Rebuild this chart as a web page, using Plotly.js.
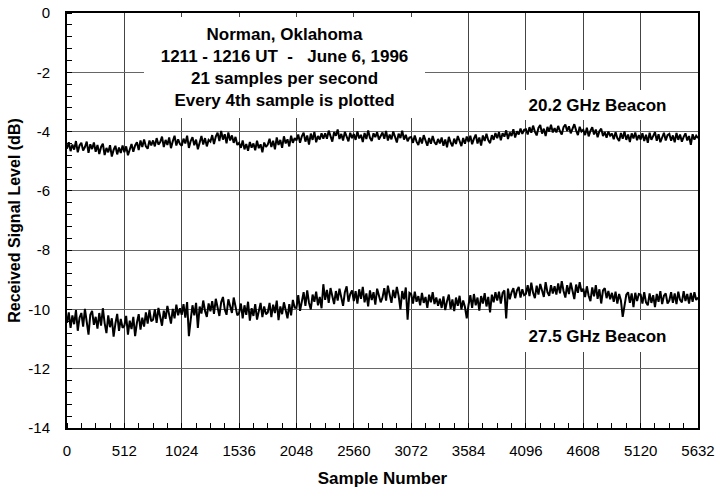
<!DOCTYPE html>
<html>
<head>
<meta charset="utf-8">
<script src="https://cdn.plot.ly/plotly-3.0.1.min.js"></script>
<style>html,body{margin:0;padding:0;background:#fff;}#chart{width:717px;height:490px;}</style>
</head>
<body>
<div id="chart"></div>
<script>
// Sample spacing between plotted points (sample number units)
const sampleStep = 16;

// 20.2 GHz beacon level (dB)
const beacon20 = [
-4.58,-4.36,-4.66,-4.44,-4.61,-4.32,-4.70,-4.47,-4.38,-4.64,-4.52,-4.34,-4.72,-4.43,-4.59,-4.37,
-4.68,-4.45,-4.76,-4.52,-4.41,-4.79,-4.55,-4.70,-4.46,-4.84,-4.62,-4.48,-4.77,-4.54,-4.72,-4.47,
-4.70,-4.50,-4.80,-4.56,-4.42,-4.68,-4.47,-4.36,-4.62,-4.30,-4.52,-4.27,-4.50,-4.58,-4.30,-4.47,
-4.30,-4.50,-4.22,-4.44,-4.35,-4.17,-4.52,-4.28,-4.45,-4.20,-4.56,-4.33,-4.14,-4.47,-4.26,-4.42,
-4.48,-4.24,-4.40,-4.14,-4.55,-4.32,-4.19,-4.46,-4.27,-4.60,-4.36,-4.15,-4.44,-4.22,-4.50,-4.28,
-4.34,-4.12,-4.42,-4.17,-4.04,-4.32,-3.98,-4.27,-4.09,-4.40,-4.03,-4.30,-4.13,-4.38,-4.18,-4.45,
-4.38,-4.55,-4.30,-4.60,-4.42,-4.65,-4.35,-4.54,-4.40,-4.63,-4.31,-4.56,-4.43,-4.70,-4.37,-4.52,
-4.44,-4.24,-4.52,-4.31,-4.60,-4.20,-4.45,-4.28,-4.55,-4.16,-4.40,-4.26,-4.50,-4.14,-4.38,-4.22,
-4.30,-4.10,-4.38,-4.16,-4.04,-4.34,-4.13,-4.44,-4.07,-4.28,-4.01,-4.36,-4.15,-4.27,-4.06,-4.24,
-4.06,-4.24,-3.97,-4.19,-4.34,-4.02,-4.14,-3.93,-4.25,-4.08,-4.30,-4.01,-4.18,-4.33,-4.04,-4.22,
-4.08,-4.28,-4.00,-4.23,-4.11,-4.35,-4.05,-4.25,-3.96,-4.21,-4.32,-4.06,-4.19,-4.02,-4.27,-4.12,
-4.03,-4.24,-3.98,-4.30,-4.10,-4.26,-4.00,-4.18,-4.37,-4.07,-4.22,-3.97,-4.27,-4.11,-4.33,-4.20,
-4.18,-4.38,-4.13,-4.34,-4.45,-4.20,-4.40,-4.12,-4.31,-4.48,-4.22,-4.41,-4.15,-4.36,-4.44,-4.25,
-4.40,-4.20,-4.48,-4.27,-4.53,-4.18,-4.37,-4.50,-4.24,-4.42,-4.15,-4.35,-4.49,-4.22,-4.41,-4.17,
-4.35,-4.14,-4.43,-4.24,-4.10,-4.40,-4.20,-4.47,-4.13,-4.32,-4.07,-4.29,-4.39,-4.12,-4.28,-4.05,
-4.22,-4.02,-4.29,-4.06,-4.17,-3.96,-4.25,-4.03,-4.15,-3.92,-4.20,-3.99,-4.10,-3.90,-4.08,-3.94,
-3.92,-4.10,-3.85,-4.04,-3.80,-4.00,-4.13,-3.88,-3.78,-4.07,-3.90,-4.15,-3.84,-4.00,-3.77,-4.03,
-3.88,-4.03,-3.81,-3.99,-4.10,-3.85,-3.76,-3.98,-3.82,-4.06,-3.90,-3.75,-3.96,-4.12,-3.84,-4.00,
-3.94,-4.12,-3.87,-4.16,-3.98,-3.85,-4.10,-3.93,-4.19,-3.99,-3.90,-4.15,-4.02,-4.21,-4.00,-4.14,
-4.07,-4.26,-4.02,-4.22,-4.32,-4.05,-4.24,-4.00,-4.28,-4.10,-4.35,-4.06,-4.23,-4.03,-4.29,-4.12,
-4.27,-4.06,-4.32,-4.11,-4.38,-4.04,-4.28,-4.14,-4.02,-4.31,-4.09,-4.36,-4.16,-4.04,-4.30,-4.12,
-4.08,-4.31,-4.13,-4.36,-4.05,-4.28,-4.10,-4.34,-4.18,-4.06,-4.30,-4.15,-4.45,-4.09,-4.27,-4.14,
-4.22
];

// 27.5 GHz beacon level (dB)
const beacon27 = [
-10.45,-10.10,-10.62,-10.20,-10.50,-10.02,-10.72,-10.28,-10.12,-10.58,-9.98,-10.44,-10.85,-10.18,-10.05,-10.52,
-10.25,-10.65,-10.12,-10.55,-9.96,-10.46,-10.80,-10.20,-10.60,-10.30,-10.92,-10.48,-10.15,-10.72,-10.32,-10.62,
-10.55,-10.22,-10.85,-10.38,-10.66,-10.25,-10.90,-10.45,-10.16,-10.68,-10.28,-10.58,-10.10,-10.48,-10.02,-10.40,
-10.35,-10.00,-10.45,-9.95,-10.26,-10.55,-10.04,-10.32,-9.88,-10.24,-10.48,-9.98,-10.30,-9.84,-10.20,-9.96,
-10.18,-9.82,-10.28,-9.75,-10.90,-10.35,-9.86,-10.20,-9.78,-10.62,-9.90,-10.14,-9.70,-10.05,-10.25,-9.80,
-10.06,-9.72,-10.15,-9.64,-9.95,-10.22,-9.76,-9.58,-10.00,-10.18,-9.66,-9.92,-10.12,-9.60,-9.86,-10.20,
-10.12,-9.80,-10.30,-9.86,-10.18,-9.74,-10.38,-9.96,-10.22,-9.82,-10.34,-10.08,-9.78,-10.26,-9.90,-10.16,
-10.10,-9.78,-10.26,-9.84,-10.12,-9.70,-10.36,-9.90,-10.16,-9.76,-10.00,-10.30,-9.82,-10.20,-9.68,-9.94,
-9.95,-9.52,-10.05,-9.66,-9.42,-9.88,-9.36,-9.78,-10.00,-9.50,-9.74,-9.40,-9.86,-9.58,-9.96,-9.15,
-9.68,-9.34,-9.78,-9.28,-9.58,-9.82,-9.38,-9.70,-9.30,-9.62,-9.88,-9.42,-9.22,-9.74,-9.48,-9.36,
-9.72,-9.38,-9.80,-9.32,-9.64,-9.24,-9.76,-9.46,-9.90,-9.36,-9.68,-9.42,-9.84,-9.30,-9.58,-9.76,
-9.60,-9.28,-9.70,-9.20,-9.50,-9.78,-9.34,-9.62,-9.24,-9.54,-10.00,-9.38,-9.66,-9.26,-10.35,-9.44,
-9.48,-9.80,-9.40,-9.74,-9.55,-9.86,-9.44,-9.78,-9.58,-9.95,-9.50,-9.76,-9.42,-9.82,-9.60,-9.88,
-9.64,-9.95,-9.56,-10.02,-9.72,-9.50,-9.98,-9.66,-10.06,-9.60,-9.88,-9.54,-10.00,-9.70,-9.92,-10.30,
-9.84,-9.52,-9.95,-9.48,-9.86,-9.60,-10.04,-9.55,-9.80,-9.45,-9.90,-9.58,-10.10,-9.50,-9.76,-9.42,
-9.70,-9.40,-9.80,-9.44,-9.36,-10.30,-9.30,-9.66,-9.42,-9.28,-9.62,-9.36,-9.24,-9.60,-9.32,-9.52,
-9.48,-9.18,-9.55,-9.10,-9.44,-9.62,-9.20,-9.50,-9.14,-9.40,-9.58,-9.08,-9.42,-9.54,-9.18,-9.46,
-9.22,-9.50,-9.12,-9.46,-9.05,-9.38,-9.60,-9.18,-9.48,-9.10,-9.42,-9.65,-9.16,-9.44,-9.08,-9.40,
-9.30,-9.58,-9.22,-9.54,-9.72,-9.26,-9.56,-9.18,-9.64,-9.32,-9.80,-9.36,-9.28,-9.62,-9.38,-9.66,
-9.44,-9.74,-9.40,-9.80,-9.48,-9.70,-10.25,-9.86,-9.50,-9.42,-9.78,-9.46,-9.92,-9.44,-9.72,-9.48,
-9.50,-9.80,-9.42,-9.76,-9.86,-9.46,-9.78,-9.52,-9.92,-9.48,-9.74,-9.38,-9.82,-9.54,-9.46,-9.80,
-9.70,-9.42,-9.78,-9.46,-9.82,-9.40,-9.68,-9.76,-9.38,-9.72,-9.48,-9.80,-9.44,-9.74,-9.42,-9.68,
-9.60
];

const xTickVals = [0,512,1024,1536,2048,2560,3072,3584,4096,4608,5120,5632];
const yTickVals = [0,-2,-4,-6,-8,-10,-12,-14];
const yTickLabels = ["0","-2","-4","-6","-8","-10","-12","-14"];
const seriesNames = ["20.2 GHz Beacon","27.5 GHz Beacon"];
const titleLines = ["Norman, Oklahoma","1211 - 1216 UT  -   June 6, 1996","21 samples per second","Every 4th sample is plotted"];

const xs20 = beacon20.map((_, i) => i * sampleStep);
const xs27 = beacon27.map((_, i) => i * sampleStep);

const FONT = "Liberation Sans, Arial, Helvetica, sans-serif";
const lineStyle = {color: "#000", width: 2};

const traces = [
  {x: xs20, y: beacon20, type: "scatter", mode: "lines", line: lineStyle, name: seriesNames[0], hoverinfo: "skip"},
  {x: xs27, y: beacon27, type: "scatter", mode: "lines", line: lineStyle, name: seriesNames[1], hoverinfo: "skip"}
];

const layout = {
  width: 717, height: 490,
  margin: {l: 67, r: 19, t: 13, b: 62},
  paper_bgcolor: "#fff", plot_bgcolor: "#fff",
  showlegend: false,
  font: {family: FONT, color: "#000", size: 15},
  xaxis: {
    range: [0, 5632], tickvals: xTickVals, ticktext: xTickVals.map(String),
    showgrid: true, gridcolor: "#444", gridwidth: 1,
    zeroline: false, showline: true, linecolor: "#000", linewidth: 2, mirror: true,
    ticks: "", ticklabelstandoff: 8,
    minor: {dtick: 128, tick0: 0, ticks: "inside", ticklen: 5, tickcolor: "#000", tickwidth: 1, showgrid: false},
    title: {text: "<b>Sample Number</b>", font: {size: 17, family: FONT}, standoff: 14}
  },
  yaxis: {
    range: [-14, 0], tickvals: yTickVals, ticktext: yTickLabels,
    showgrid: true, gridcolor: "#666", gridwidth: 1,
    zeroline: false, showline: true, linecolor: "#000", linewidth: 2, mirror: true,
    ticks: "", ticklabelstandoff: 12,
    minor: {dtick: 0.4, tick0: 0, ticks: "inside", ticklen: 5, tickcolor: "#000", tickwidth: 1, showgrid: false},
    title: {text: "<b>Received Signal Level (dB)</b>", font: {size: 16, family: FONT}, standoff: 4}
  },
  annotations: [
    {x: 1941, y: -1.84, xref: "x", yref: "y", xanchor: "center", yanchor: "middle",
     text: "<b>" + titleLines.join("<br>") + "</b>", showarrow: false,
     bgcolor: "#fff", borderpad: 0, borderwidth: 0, width: 281, height: 101,
     align: "center", valign: "middle", font: {size: 17, family: FONT, color: "#000"}},
    {x: 4731, y: -3.10, xref: "x", yref: "y", xanchor: "center", yanchor: "middle",
     text: "<b>" + seriesNames[0] + "</b>", showarrow: false,
     bgcolor: "#fff", borderpad: 0, borderwidth: 0, width: 155, height: 30,
     font: {size: 17, family: FONT, color: "#000"}},
    {x: 4731, y: -10.90, xref: "x", yref: "y", xanchor: "center", yanchor: "middle",
     text: "<b>" + seriesNames[1] + "</b>", showarrow: false,
     bgcolor: "#fff", borderpad: 0, borderwidth: 0, width: 155, height: 32,
     font: {size: 17, family: FONT, color: "#000"}}
  ]
};

Plotly.newPlot("chart", traces, layout, {staticPlot: true, displayModeBar: false});
</script>
</body>
</html>
